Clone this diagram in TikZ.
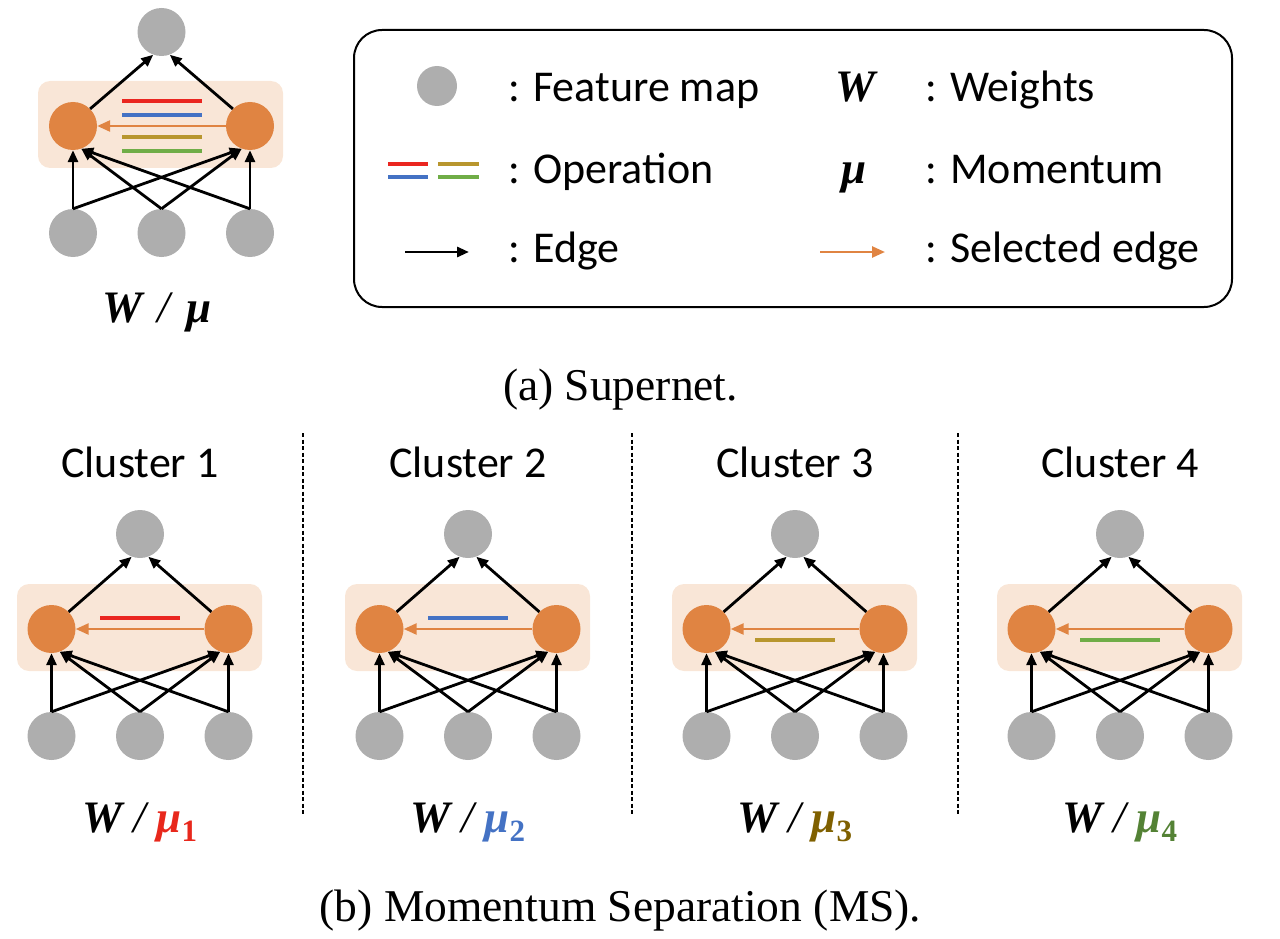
\documentclass[tikz,border=0pt]{standalone}
\usepackage{fontspec}
\setmainfont{Liberation Serif}
\newfontfamily\calfont{Carlito}
\usetikzlibrary{arrows.meta}

\definecolor{fmgray}{RGB}{174,174,174}
\definecolor{nodeorange}{RGB}{224,132,66}
\definecolor{bandpeach}{RGB}{249,230,215}
\definecolor{opred}{RGB}{234,38,32}
\definecolor{opblue}{RGB}{68,114,196}
\definecolor{opolive}{RGB}{184,150,46}
\definecolor{opgreen}{RGB}{112,173,71}
\definecolor{mured}{RGB}{232,40,28}
\definecolor{mublue}{RGB}{68,114,196}
\definecolor{muolive}{RGB}{127,96,0}
\definecolor{mugreen}{RGB}{84,130,53}

\newcommand{\bigsans}{\calfont\fontsize{44}{52}\selectfont}
\newcommand{\bigserif}{\fontsize{45.5}{54}\selectfont}
\newcommand{\wmu}[2]{\textbf{\textit{W}}\,\textit{/}\,\textcolor{#1}{\textbf{\textit{μ}}\raisebox{-0.22em}{\fontsize{31}{31}\selectfont\textbf{#2}}}}

\begin{document}
\begin{tikzpicture}[x=1pt, y=-1pt,
    fmap/.style={circle, fill=fmgray, minimum size=48pt, inner sep=0pt},
    opnode/.style={circle, fill=nodeorange, minimum size=48pt, inner sep=0pt},
    band/.style={fill=bandpeach, rounded corners=12pt},
    edgearr/.style={-{Triangle[length=12pt,width=10pt]}, line width=2.8pt},
    selarr/.style={-{Triangle[length=13pt,width=11pt]}, line width=2.5pt, draw=nodeorange},
    opline/.style={line width=4pt},
    txt/.style={anchor=base west, inner sep=0pt, font=\bigsans}]
  \useasboundingbox (0,0) rectangle (1280,939);

  % Supernet
  \fill[band] (38,81) rectangle (283,168);
  \node[fmap] (st) at (161.5,32) {};
  \node[opnode] (sl) at (73,126) {};
  \node[opnode] (sr) at (250,126) {};
  \node[fmap] (sa) at (73,233) {};
  \node[fmap] (sb) at (161.5,233) {};
  \node[fmap] (sc) at (250,233) {};
  \draw[opline, opred] (122,101) -- (202,101);
  \draw[opline, opblue] (122,115) -- (202,115);
  \draw[opline, opolive] (122,137) -- (202,137);
  \draw[opline, opgreen] (122,151) -- (202,151);
  \draw[selarr] (sr.west) -- (sl.east);
  \draw[edgearr] (sl.45) -- (st.250);
  \draw[edgearr] (sr.135) -- (st.290);
  \draw[edgearr] (sa.north) -- (sl.south);
  \draw[edgearr] (sb.north) -- (sl.290);
  \draw[edgearr] (sc.north) -- (sl.290);
  \draw[edgearr] (sa.north) -- (sr.250);
  \draw[edgearr] (sb.north) -- (sr.250);
  \draw[edgearr] (sc.north) -- (sr.south);
  \node[anchor=base, inner sep=0pt, font=\fontsize{45}{52}\selectfont] (slbl) at (157,322) {\textbf{\textit{W}}\;\textit{/}\;\textbf{\textit{μ}}};

  % Legend
  \draw[line width=2pt, rounded corners=28pt] (354,30) rectangle (1232,307);
  \node[fmap, minimum size=40pt] (lgfm) at (437,86) {};
  \node[txt] (lgfmt) at (508,102) {: Feature map};
  \draw[line width=3.5pt, opred] (388,164) -- (428,164);
  \draw[line width=3.5pt, opblue] (388,177) -- (428,177);
  \draw[line width=3.5pt, opolive] (438,164) -- (479,164);
  \draw[line width=3.5pt, opgreen] (438,177) -- (479,177);
  \node[txt] (lgopt) at (508,183) {: Operation};
  \coordinate (lgea) at (405,252);
  \coordinate (lgeb) at (469,252);
  \draw[edgearr] (lgea) -- (lgeb);
  \node[txt] (lgedt) at (508,262) {: Edge};
  \node[anchor=base, inner sep=0pt, font=\fontsize{45}{52}\selectfont] (lgw) at (857,102) {\textbf{\textit{W}}};
  \node[txt] (lgwt) at (925,102) {: Weights};
  \node[anchor=base, inner sep=0pt, font=\fontsize{45}{52}\selectfont] (lgmu) at (854,183) {\textbf{\textit{μ}}};
  \node[txt] (lgmut) at (925,183) {: Momentum};
  \coordinate (lgsa) at (820,252);
  \coordinate (lgsb) at (885,252);
  \draw[selarr] (lgsa) -- (lgsb);
  \node[txt] (lgselt) at (925,262) {: Selected edge};

  \node[anchor=base, inner sep=0pt, font=\bigserif] (capa) at (620.5,400) {(a) Supernet.};

  % Clusters
  \foreach \i/\cx/\oc/\dy/\mc in {1/140/opred/-11/mured, 2/468/opblue/-11/mublue, 3/795/opolive/11/muolive, 4/1120/opgreen/11/mugreen} {
    \fill[band] (\cx-123,584) rectangle (\cx+122,671);
    \node[anchor=base, inner sep=0pt, font=\bigsans] (title\i) at (\cx,477) {Cluster \i};
    \node[fmap] (top\i) at (\cx,534) {};
    \node[opnode] (lft\i) at (\cx-88.5,629) {};
    \node[opnode] (rgt\i) at (\cx+88.5,629) {};
    \node[fmap] (inA\i) at (\cx-88.5,736) {};
    \node[fmap] (inB\i) at (\cx,736) {};
    \node[fmap] (inC\i) at (\cx+88.5,736) {};
    \draw[opline, \oc] (\cx-40,629+\dy) -- (\cx+40,629+\dy);
    \draw[selarr] (rgt\i.west) -- (lft\i.east);
    \draw[edgearr] (lft\i.45) -- (top\i.250);
    \draw[edgearr] (rgt\i.135) -- (top\i.290);
    \draw[edgearr] (inA\i.north) -- (lft\i.south);
    \draw[edgearr] (inB\i.north) -- (lft\i.290);
    \draw[edgearr] (inC\i.north) -- (lft\i.290);
    \draw[edgearr] (inA\i.north) -- (rgt\i.250);
    \draw[edgearr] (inB\i.north) -- (rgt\i.250);
    \draw[edgearr] (inC\i.north) -- (rgt\i.south);
    \node[anchor=base, inner sep=0pt, font=\fontsize{45}{52}\selectfont] (wlbl\i) at (\cx,832) {\wmu{\mc}{\i}};
  }

  % Separators
  \foreach \sx in {303,632,958}
    \draw[line width=1.8pt, dash pattern=on 4pt off 2.5pt] (\sx,433) -- (\sx,815);

  \node[anchor=base, inner sep=0pt, font=\bigserif] (capb) at (620.5,921) {(b) Momentum Separation (MS).};
\end{tikzpicture}
\end{document}
